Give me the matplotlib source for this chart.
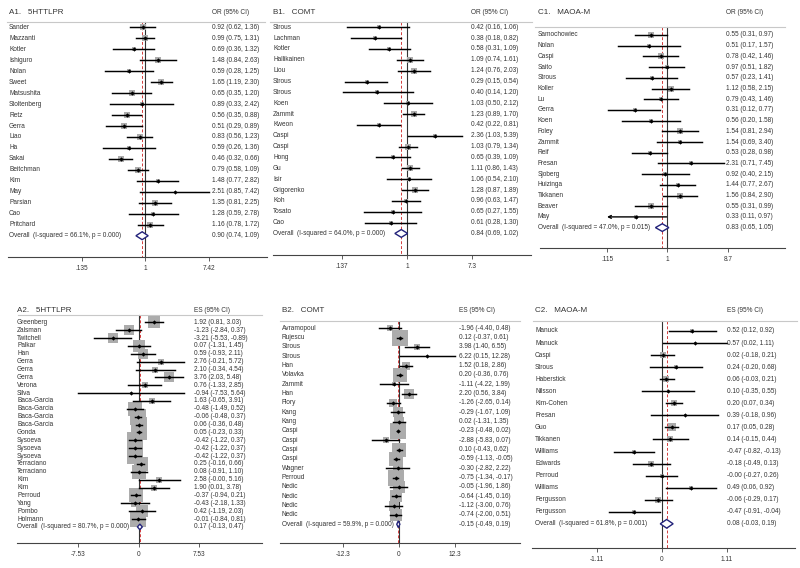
# forest plots for the 5HTTLPR / COMT / MAOA-M meta-analyses
# top row: odds ratios (log axis), bottom row: effect sizes (linear axis)

import matplotlib
matplotlib.use("agg")
import matplotlib.pyplot as plt
from matplotlib.ticker import NullLocator
import numpy as np

plt.rcParams["font.family"] = ["Liberation Sans", "DejaVu Sans"]

# ---------------- A1. 5HTTLPR (OR) ----------------
a1_names = ["Sander", "Mazzanti", "Kotler", "Ishiguro", "Nolan", "Sweet", "Matsushita",
            "Stoltenberg", "Retz", "Gerra", "Liao", "Ha", "Sakai", "Beitchman", "Kim",
            "May", "Parsian", "Cao", "Pritchard"]
a1_est = [0.92, 0.99, 0.69, 1.48, 0.59, 1.65, 0.65, 0.89, 0.56, 0.51, 0.83, 0.59, 0.46,
          0.79, 1.48, 2.51, 1.35, 1.28, 1.16]
a1_lo = [0.62, 0.75, 0.36, 0.84, 0.28, 1.19, 0.35, 0.33, 0.35, 0.29, 0.56, 0.26, 0.32,
         0.58, 0.77, 0.85, 0.81, 0.59, 0.78]
a1_hi = [1.36, 1.31, 1.32, 2.63, 1.25, 2.30, 1.20, 2.42, 0.88, 0.89, 1.23, 1.36, 0.66,
         1.09, 2.82, 7.42, 2.25, 2.78, 1.72]
a1_w = [5.7, 8.9, 3.2, 6.6, 3.2, 7.8, 5.7, 2.1, 5.7, 5.7, 5.7, 3.2, 8.9, 7.8, 3.2, 1.4,
        5.7, 3.2, 6.6]
a1_overall = [0.90, 0.74, 1.09]
a1_i2, a1_p = 66.1, 0.000
a1_ticks = [0.135, 1, 7.42]
a1_ticklabels = [".135", "1", "7.42"]

# ---------------- B1. COMT (OR) ----------------
b1_names = ["Strous", "Lachman", "Kotler", "Hallikainen", "Liou", "Strous", "Strous", "Koen",
            "Zammit", "Kweon", "Caspi", "Caspi", "Hong", "Gu", "Isir", "Grigorenko", "Koh",
            "Tosato", "Cao"]
b1_est = [0.42, 0.38, 0.58, 1.09, 1.24, 0.29, 0.40, 1.03, 1.23, 0.42, 2.36, 1.03, 0.65,
          1.11, 1.06, 1.28, 0.96, 0.65, 0.61]
b1_lo = [0.16, 0.18, 0.31, 0.74, 0.76, 0.15, 0.14, 0.50, 0.89, 0.22, 1.03, 0.79, 0.39,
         0.86, 0.54, 0.87, 0.63, 0.27, 0.28]
b1_hi = [1.06, 0.82, 1.09, 1.61, 2.03, 0.54, 1.20, 2.12, 1.70, 0.81, 5.39, 1.34, 1.09,
         1.43, 2.10, 1.89, 1.47, 1.55, 1.30]
b1_w = [2.6, 4.0, 4.8, 7.0, 7.0, 4.8, 2.6, 4.0, 8.1, 4.8, 2.6, 9.7, 5.3, 9.7, 4.0, 8.1,
        5.3, 2.6, 2.6]
b1_overall = [0.84, 0.69, 1.02]
b1_i2, b1_p = 64.0, 0.000
b1_ticks = [0.137, 1, 7.3]
b1_ticklabels = [".137", "1", "7.3"]

# ---------------- C1. MAOA-M (OR) ----------------
c1_names = ["Samochowiec", "Nolan", "Caspi", "Saito", "Strous", "Koller", "Lu", "Gerra",
            "Koen", "Foley", "Zammit", "Reif", "Fresan", "Sjoberg", "Huizinga", "Tikkanen",
            "Beaver", "May"]
c1_est = [0.55, 0.51, 0.78, 0.97, 0.57, 1.12, 0.79, 0.31, 0.56, 1.54, 1.54, 0.53, 2.31,
          0.92, 1.44, 1.56, 0.55, 0.33]
c1_lo = [0.31, 0.17, 0.42, 0.51, 0.23, 0.58, 0.43, 0.12, 0.20, 0.81, 0.69, 0.28, 0.71,
         0.40, 0.77, 0.84, 0.31, 0.11]
c1_hi = [0.97, 1.57, 1.46, 1.82, 1.41, 2.15, 1.46, 0.77, 1.58, 2.94, 3.40, 0.98, 7.45,
         2.15, 2.67, 2.90, 0.99, 0.97]
c1_w = [7.5, 4.2, 7.5, 5.6, 4.2, 7.5, 5.6, 4.2, 4.2, 7.5, 5.6, 5.6, 2.8, 4.2, 5.6, 7.5,
        7.5, 2.8]
c1_overall = [0.83, 0.65, 1.05]
c1_i2, c1_p = 47.0, 0.015
c1_ticks = [0.115, 1, 8.7]
c1_ticklabels = [".115", "1", "8.7"]

# ---------------- A2. 5HTTLPR (ES) ----------------
a2_names = ["Greenberg", "Zalsman", "Twitchell", "Palkar", "Han", "Gerra", "Gerra", "Gerra",
            "Verona", "Silva", "Baca-Garcia", "Baca-Garcia", "Baca-Garcia", "Baca-Garcia",
            "Gonda", "Sysoeva", "Sysoeva", "Sysoeva", "Terraciano", "Terraciano", "Kim",
            "Kim", "Perroud", "Yang", "Pombo", "Holmann"]
a2_est = [1.92, -1.23, -3.21, 0.07, 0.59, 2.76, 2.10, 3.76, 0.76, -0.94, 1.63, -0.48,
          -0.06, 0.06, 0.05, -0.42, -0.42, -0.42, 0.25, 0.08, 2.58, 1.90, -0.37, -0.43,
          0.42, -0.01]
a2_lo = [0.81, -2.84, -5.53, -1.31, -0.93, -0.21, -0.34, 2.03, -1.33, -7.53, -0.65, -1.49,
         -0.48, -0.36, -0.23, -1.22, -1.22, -1.22, -0.16, -0.91, -0.0, 0.01, -0.94, -2.18,
         -1.19, -0.84]
a2_hi = [3.03, 0.37, -0.89, 1.45, 2.11, 5.72, 4.54, 5.48, 2.85, 5.64, 3.91, 0.52, 0.37,
         0.48, 0.33, 0.37, 0.37, 0.37, 0.66, 1.10, 5.16, 3.78, 0.21, 1.33, 2.03, 0.81]
a2_w = [4.1, 2.7, 2.2, 4.4, 2.7, 1.0, 1.3, 2.7, 1.3, 0.1, 1.3, 5.3, 6.7, 7.6, 7.6, 6.1,
        6.1, 6.1, 5.3, 5.3, 1.3, 1.3, 5.3, 1.7, 3.9, 6.1]
a2_overall = [0.17, -0.13, 0.47]
a2_i2, a2_p = 80.7, 0.000
a2_ticks = [-7.53, 0, 7.53]
a2_ticklabels = ["-7.53", "0", "7.53"]

# ---------------- B2. COMT (ES) ----------------
b2_names = ["Avramopoul", "Rujescu", "Strous", "Strous", "Han", "Volavka", "Zammit", "Han",
            "Flory", "Kang", "Kang", "Caspi", "Caspi", "Caspi", "Caspi", "Wagner", "Perroud",
            "Nedic", "Nedic", "Nedic", "Nedic"]
b2_est = [-1.96, 0.12, 3.98, 6.22, 1.52, 0.20, -1.11, 2.20, -1.26, -0.29, 0.02, -0.23,
          -2.88, 0.10, -0.59, -0.30, -0.75, -0.05, -0.64, -1.12, -0.74]
b2_lo = [-4.40, -0.37, 1.40, 0.15, 0.18, -0.36, -4.22, 0.56, -2.65, -1.67, -1.31, -0.48,
         -5.83, -0.43, -1.13, -2.82, -1.34, -1.96, -1.45, -3.00, -2.00]
b2_hi = [0.48, 0.61, 6.55, 12.28, 2.86, 0.76, 1.99, 3.84, 0.14, 1.09, 1.35, 0.02, 0.07,
         0.62, -0.05, 2.22, -0.17, 1.86, 0.16, 0.76, 0.51]
b2_w = [1.8, 9.1, 1.8, 0.05, 2.6, 8.7, 1.0, 3.3, 2.8, 3.5, 4.0, 11.3, 1.3, 8.3, 7.9, 4.0,
        9.1, 5.5, 4.9, 4.0, 4.9]
b2_overall = [-0.15, -0.49, 0.19]
b2_i2, b2_p = 59.9, 0.000
b2_ticks = [-12.3, 0, 12.3]
b2_ticklabels = ["-12.3", "0", "12.3"]

# ---------------- C2. MAOA-M (ES) ----------------
c2_names = ["Manuck", "Manuck", "Caspi", "Strous", "Haberstick", "Nilsson", "Kim-Cohen",
            "Fresan", "Guo", "Tikkanen", "Williams", "Edwards", "Perroud", "Williams",
            "Fergusson", "Fergusson"]
c2_est = [0.52, 0.57, 0.02, 0.24, 0.06, 0.10, 0.20, 0.39, 0.17, 0.14, -0.47, -0.18, -0.0,
          0.49, -0.06, -0.47]
c2_lo = [0.12, 0.02, -0.18, -0.20, -0.03, -0.35, 0.07, -0.18, 0.05, -0.15, -0.82, -0.49,
         -0.27, 0.06, -0.29, -0.91]
c2_hi = [0.92, 1.11, 0.21, 0.68, 0.21, 0.55, 0.34, 0.96, 0.28, 0.44, -0.13, 0.13, 0.26,
         0.92, 0.17, -0.04]
c2_w = [4.0, 1.4, 10.1, 4.0, 10.1, 1.8, 11.5, 1.8, 13.0, 6.5, 5.8, 6.5, 5.8, 3.2, 9.0, 5.8]
c2_overall = [0.08, -0.03, 0.19]
c2_i2, c2_p = 61.8, 0.001
c2_ticks = [-1.11, 0, 1.11]
c2_ticklabels = ["-1.11", "0", "1.11"]

# panel geometry in pixels of the 800x568 figure
W, H = 800, 568
layout = {
    "A1": dict(left=8, right=267, top=0, axis=257, first=27.3, step=10.97, hline=22,
               hline_x=(7, 265), title_y=12, name_x=9, num_x=212, tick_px=(82, 209), box_k=2.1),
    "B1": dict(left=273, right=531, top=0, axis=255, first=27.3, step=10.85, hline=22,
               hline_x=(270, 532), title_y=12, name_x=273, num_x=471, tick_px=(342, 472), box_k=1.9),
    "C1": dict(left=540, right=785, top=0, axis=248, first=35, step=10.7, hline=27,
               hline_x=(535, 785), title_y=12, name_x=538, num_x=726, tick_px=(607, 728), box_k=1.85),
    "A2": dict(left=17, right=262, top=282, axis=543, first=322.3, step=7.87, hline=315,
               hline_x=(18, 262), title_y=311, name_x=17, num_x=194, tick_px=(78, 199), box_k=6.1),
    "B2": dict(left=280, right=520, top=282, axis=543, first=328.3, step=9.33, hline=321,
               hline_x=(280, 520), title_y=311, name_x=282, num_x=459, tick_px=(343, 455), box_k=5.0),
    "C2": dict(left=532, right=795, top=282, axis=548, first=331, step=12.05, hline=321,
               hline_x=(533, 797), title_y=311, name_x=535, num_x=727, tick_px=(597, 727), box_k=2.0),
}

TXT = "#333333"
FS = 4.7


def forest(fig, L, title, head, names, est, lo, hi, w, overall, i2, p, ticks, ticklabels, log):
    ax = fig.add_axes([L["left"] / W, 1 - L["axis"] / H,
                       (L["right"] - L["left"]) / W, (L["axis"] - L["top"]) / H])
    fwd = np.log if log else (lambda v: v)
    t0, t1 = fwd(ticks[0]), fwd(ticks[-1])
    p0, p1 = L["tick_px"]
    s = (t1 - t0) / (p1 - p0)
    xlo = t0 - (p0 - L["left"]) * s
    xhi = t1 + (L["right"] - p1) * s
    if log:
        ax.set_xscale("log")
        ax.set_xlim(np.exp(xlo), np.exp(xhi))
    else:
        ax.set_xlim(xlo, xhi)

    # y in row units, row 0 = first study
    ybot = (L["axis"] - L["first"]) / L["step"]
    ytop = -(L["first"] - L["top"]) / L["step"]
    ax.set_ylim(ybot, ytop)
    row = lambda px: (px - L["first"]) / L["step"]
    xf = lambda px: (px - L["left"]) / (L["right"] - L["left"])
    tr = ax.get_yaxis_transform()

    n = len(names)
    null = 1 if log else 0
    yh = row(L["hline"])
    ax.plot([xf(L["hline_x"][0]), xf(L["hline_x"][1])], [yh, yh], transform=tr,
            color="#c8c8c8", lw=0.8, clip_on=False)
    ax.plot([null, null], [yh, ybot], color="#333333", lw=0.8, zorder=1)
    ax.plot([overall[0]] * 2, [yh, ybot], color="#d23c3c", lw=0.7, ls=(0, (3, 2)), zorder=1)

    lim_lo, lim_hi = ticks[0], ticks[-1]
    for i in range(n):
        ax.scatter(est[i], i, s=(L["box_k"] * np.sqrt(w[i]) * 0.72) ** 2, marker="s",
                   color="#acacac", linewidths=0, zorder=2)
        a, b = max(lo[i], lim_lo), min(hi[i], lim_hi)
        if lo[i] < lim_lo:
            ax.annotate("", xy=(a, i), xytext=(b, i),
                        arrowprops=dict(arrowstyle="->", lw=1.0, color="black",
                                        shrinkA=0, shrinkB=0, mutation_scale=5), zorder=3)
        else:
            ax.plot([a, b], [i, i], color="black", lw=1.05, zorder=3)
        ax.plot(est[i], i, marker="D", ms=2.2, color="black", mew=0, zorder=4)
        ax.text(xf(L["name_x"]), i, names[i], transform=tr, ha="left", va="center",
                fontsize=FS, color=TXT)
        ax.text(xf(L["num_x"]), i, f"{est[i]:.2f} ({lo[i]:.2f}, {hi[i]:.2f})", transform=tr,
                ha="left", va="center", fontsize=FS, color=TXT)

    e, l, h = overall
    d = 0.36
    ax.fill([l, e, h, e], [n, n - d, n, n + d], facecolor="white", edgecolor="#22227a",
            lw=1.0, zorder=5)
    ax.text(xf(L["name_x"]), n, f"Overall  (I-squared = {i2:.1f}%, p = {p:.3f})", transform=tr,
            ha="left", va="center", fontsize=FS, color=TXT)
    ax.text(xf(L["num_x"]), n, f"{e:.2f} ({l:.2f}, {h:.2f})", transform=tr,
            ha="left", va="center", fontsize=FS, color=TXT)

    yt = row(L["title_y"])
    ax.text(xf(L["name_x"]), yt, title, transform=tr, ha="left", va="center",
            fontsize=5.8, color=TXT, clip_on=False)
    ax.text(xf(L["num_x"]), yt, head, transform=tr, ha="left", va="center",
            fontsize=FS, color=TXT, clip_on=False)

    for side in ["left", "top", "right"]:
        ax.spines[side].set_visible(False)
    ax.spines["bottom"].set_color("#444444")
    ax.spines["bottom"].set_linewidth(0.8)
    ax.set_yticks([])
    ax.set_xticks(ticks)
    ax.set_xticklabels(ticklabels)
    ax.xaxis.set_minor_locator(NullLocator())
    ax.tick_params(axis="x", direction="out", length=3, width=0.6, pad=2.5,
                   labelsize=FS, labelcolor=TXT, color="#444444")
    ax.patch.set_alpha(0)
    return ax


def main():
    fig = plt.figure(figsize=(8, 5.68), dpi=100)
    forest(fig, layout["A1"], "A1.   5HTTLPR", "OR (95% CI)", a1_names, a1_est, a1_lo, a1_hi,
           a1_w, a1_overall, a1_i2, a1_p, a1_ticks, a1_ticklabels, True)
    forest(fig, layout["B1"], "B1.   COMT", "OR (95% CI)", b1_names, b1_est, b1_lo, b1_hi,
           b1_w, b1_overall, b1_i2, b1_p, b1_ticks, b1_ticklabels, True)
    forest(fig, layout["C1"], "C1.   MAOA-M", "OR (95% CI)", c1_names, c1_est, c1_lo, c1_hi,
           c1_w, c1_overall, c1_i2, c1_p, c1_ticks, c1_ticklabels, True)
    forest(fig, layout["A2"], "A2.   5HTTLPR", "ES (95% CI)", a2_names, a2_est, a2_lo, a2_hi,
           a2_w, a2_overall, a2_i2, a2_p, a2_ticks, a2_ticklabels, False)
    forest(fig, layout["B2"], "B2.   COMT", "ES (95% CI)", b2_names, b2_est, b2_lo, b2_hi,
           b2_w, b2_overall, b2_i2, b2_p, b2_ticks, b2_ticklabels, False)
    forest(fig, layout["C2"], "C2.   MAOA-M", "ES (95% CI)", c2_names, c2_est, c2_lo, c2_hi,
           c2_w, c2_overall, c2_i2, c2_p, c2_ticks, c2_ticklabels, False)
    fig.savefig("out.png", dpi=100)


if __name__ == "__main__":
    main()
